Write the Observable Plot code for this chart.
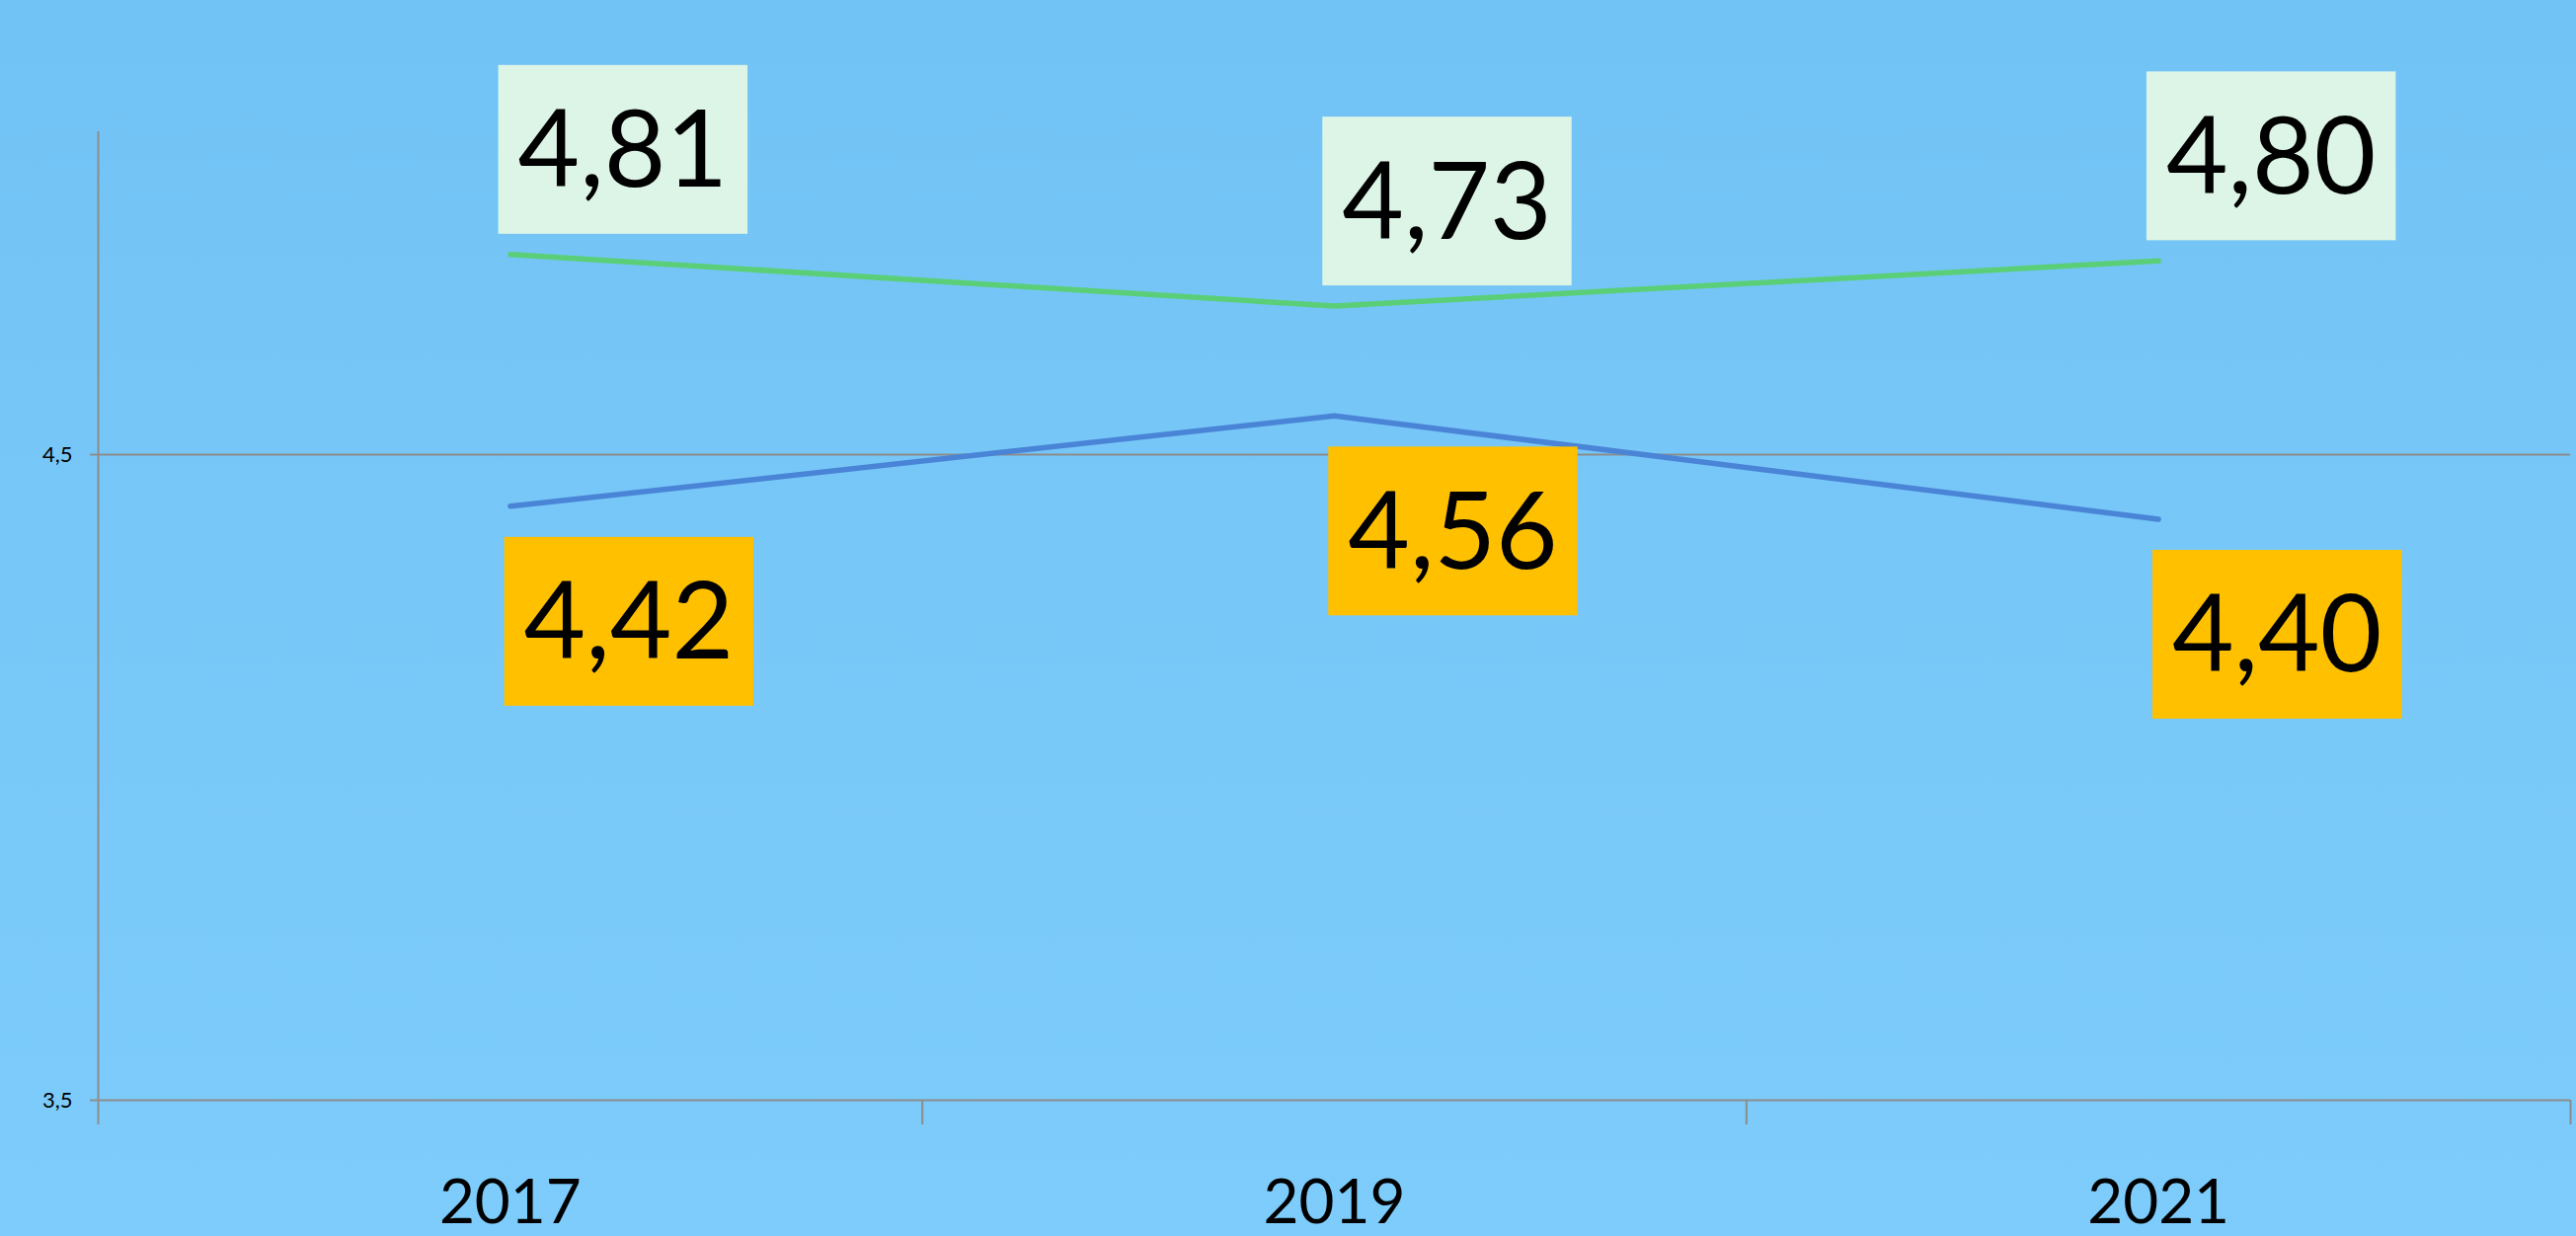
<!DOCTYPE html>
<html>
<head>
<meta charset="utf-8">
<script src="https://cdn.jsdelivr.net/npm/d3@7"></script>
<script src="https://cdn.jsdelivr.net/npm/@observablehq/plot@0.6"></script>
<style>
  html, body { margin: 0; padding: 0; overflow: hidden; }
  body { width: 2609px; height: 1252px; background: linear-gradient(to bottom, #72C3F5, #7DCCFB); }
  #chart svg { display: block; max-width: none; }
</style>
</head>
<body>
<div id="chart"></div>
<script>
const years = [2017, 2019, 2021];
const seriesGreen = [4.81, 4.73, 4.80];
const seriesBlue = [4.42, 4.56, 4.40];
const yTicks = [3.5, 4.5];
const bandEdges = [2016, 2018, 2020, 2022];

const greenData = years.map((y, i) => ({year: y, value: seriesGreen[i]}));
const blueData = years.map((y, i) => ({year: y, value: seriesBlue[i]}));
const fmt = v => v.toFixed(2).replace(".", ",");
const gray = "#8c8c8c";

const chart = Plot.plot({
  width: 2609,
  height: 1252,
  marginLeft: 99,
  marginRight: 6,
  marginTop: 133,
  marginBottom: 138,
  style: {background: "transparent", fontFamily: "Lato, 'Open Sans', sans-serif", color: "black"},
  x: {type: "linear", domain: [2016, 2022]},
  y: {domain: [3.5, 5.0]},
  marks: [
    Plot.gridY(yTicks, {stroke: gray, strokeOpacity: 1, strokeWidth: 2}),
    Plot.ruleX([2016], {y1: 3.5, y2: 5.0, stroke: gray, strokeWidth: 2}),
    Plot.axisY({ticks: yTicks, tickSize: 8, tickPadding: 18, stroke: gray, strokeWidth: 2, fill: "black", fontSize: 22, tickFormat: d => String(d).replace(".", ","), label: null}),
    Plot.axisX({ticks: bandEdges, tickSize: 25, stroke: gray, strokeWidth: 2, tickFormat: () => "", label: null}),
    Plot.axisX({ticks: years, tickSize: 0, tickPadding: 80, fill: "black", fontSize: 62, tickFormat: d => String(d), label: null}),
    Plot.line(greenData, {x: "year", y: "value", stroke: "#5BCF78", strokeWidth: 5.5, strokeLinecap: "round"}),
    Plot.line(blueData, {x: "year", y: "value", stroke: "#4A84D6", strokeWidth: 5.5, strokeLinecap: "round"}),
    Plot.text(greenData, {x: "year", y: "value", text: d => fmt(d.value), dx: 114, dy: -103, fontSize: 108, fill: "black", textAnchor: "middle", lineAnchor: "middle", className: "lbl-green"}),
    Plot.text(blueData, {x: "year", y: "value", text: d => fmt(d.value), dx: 120, dy: 120, fontSize: 108, fill: "black", textAnchor: "middle", lineAnchor: "middle", className: "lbl-blue"})
  ]
});

document.getElementById("chart").appendChild(chart);

// Label background boxes sized from the rendered text
function boxify(cls, fill) {
  chart.querySelectorAll("g." + cls + " text").forEach(t => {
    const b = t.getBBox();
    const h = 171;
    const w = b.width + 40;
    const cx = b.x + b.width / 2;
    const cy = b.y + b.height / 2 + 4;
    const r = document.createElementNS("http://www.w3.org/2000/svg", "rect");
    r.setAttribute("x", cx - w / 2);
    r.setAttribute("y", cy - h / 2);
    r.setAttribute("width", w);
    r.setAttribute("height", h);
    r.setAttribute("fill", fill);
    const tr = t.getAttribute("transform");
    if (tr) r.setAttribute("transform", tr);
    t.parentNode.insertBefore(r, t);
  });
}
boxify("lbl-green", "#DDF5E6");
boxify("lbl-blue", "#FFC000");
</script>
</body>
</html>
